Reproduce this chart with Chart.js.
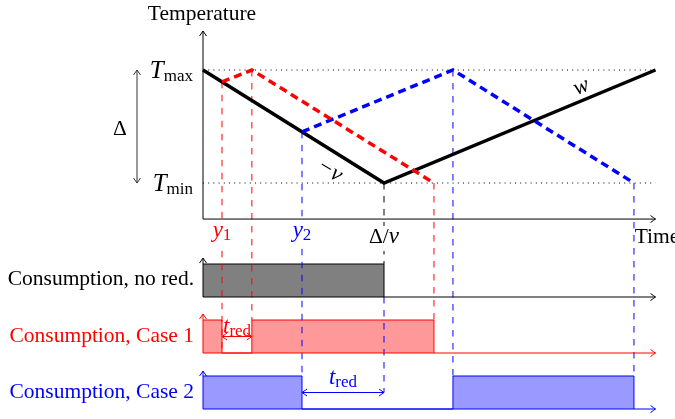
<!DOCTYPE html>
<html>
<head>
<meta charset="utf-8">
<script src="https://cdn.jsdelivr.net/npm/chart.js@4.4.1/dist/chart.umd.min.js"></script>
<style>
  html, body { margin: 0; padding: 0; background: #fff; overflow: hidden; }
</style>
</head>
<body>
<canvas id="chart" width="675" height="419"></canvas>
<script>
// time in units of Delta/v, temperature: 0 = Tmin, 1 = Tmax
const timeNoRed = [0, 1, 2.5];
const tempNoRed = [1, 0, 1];
const timeCase1 = [0.105, 0.27, 1.276];
const tempCase1 = [0.895, 1, 0];
const timeCase2 = [0.547, 1.381, 2.381];
const tempCase2 = [0.453, 1, 0];

// consumption on (1) / off (0), level holds from each time on
const consTimeNoRed = [0, 1];
const consNoRed = [1, 0];
const consTimeCase1 = [0, 0.105, 0.27, 1.276];
const consCase1 = [1, 0, 1, 0];
const consTimeCase2 = [0, 0.547, 1.381, 2.381];
const consCase2 = [1, 0, 1, 0];

const rowLabels = ['Consumption, no red.', 'Consumption, Case 1', 'Consumption, Case 2'];

const RED = '#ff0000';
const BLUE = '#0000ff';
const SERIF = '"Liberation Serif", "Times New Roman", serif';
const F_RM = '21.5px ' + SERIF;
const F_IT = 'italic 23px ' + SERIF;
const F_SUB = '17px ' + SERIF;

const pts = (xs, ys) => xs.map((x, i) => ({x: x, y: ys[i]}));

// scale bounds so that value 0 / 1 land on the wanted rows
const band = (base, top, h) => {
    const ppu = base - top;
    return {min: -(h - base) / ppu, max: base / ppu};
};

const seg = (ctx, x1, y1, x2, y2, color, width, dash) => {
    ctx.save();
    ctx.strokeStyle = color;
    ctx.lineWidth = width;
    ctx.setLineDash(dash || []);
    ctx.beginPath();
    ctx.moveTo(x1, y1);
    ctx.lineTo(x2, y2);
    ctx.stroke();
    ctx.restore();
};

const head = (ctx, x, y, angle, color) => {
    ctx.save();
    ctx.translate(x, y);
    ctx.rotate(angle);
    ctx.strokeStyle = color;
    ctx.lineWidth = 1;
    ctx.setLineDash([]);
    ctx.beginPath();
    ctx.moveTo(-5, -3.5);
    ctx.quadraticCurveTo(-1.5, -1, 0, 0);
    ctx.quadraticCurveTo(-1.5, 1, -5, 3.5);
    ctx.stroke();
    ctx.restore();
};

const arrow = (ctx, x1, y1, x2, y2, color, both) => {
    seg(ctx, x1, y1, x2, y2, color, 1);
    const a = Math.atan2(y2 - y1, x2 - x1);
    head(ctx, x2, y2, a, color);
    if (both) head(ctx, x1, y1, a + Math.PI, color);
};

// list of [text, font, dy]; bg paints a white box behind the text
const parts = (ctx, list, x, y, align, color, bg) => {
    ctx.save();
    ctx.textBaseline = 'alphabetic';
    ctx.textAlign = 'left';
    let w = 0;
    list.forEach(p => { ctx.font = p[1]; w += ctx.measureText(p[0]).width; });
    let cx = align === 'center' ? x - w / 2 : align === 'right' ? x - w : x;
    if (bg) {
        ctx.fillStyle = '#fff';
        ctx.fillRect(cx - 2, y - 17, w + 4, 25);
    }
    ctx.fillStyle = color;
    list.forEach(p => {
        ctx.font = p[1];
        ctx.fillText(p[0], cx, y + (p[2] || 0));
        cx += ctx.measureText(p[0]).width;
    });
    ctx.restore();
};

const rotated = (ctx, text, font, x, y, angle) => {
    ctx.save();
    ctx.translate(x, y);
    ctx.rotate(angle);
    ctx.font = font;
    ctx.fillStyle = '#000';
    ctx.textAlign = 'center';
    ctx.textBaseline = 'middle';
    ctx.fillText(text, 0, 0);
    ctx.restore();
};

const diagram = {
    id: 'diagram',
    beforeDatasetsDraw: chart => {
        const ctx = chart.ctx;
        const X = v => chart.scales.x.getPixelForValue(v);
        const T = v => chart.scales.y.getPixelForValue(v);
        chart.$verticalsDone = false;
        [1, 0].forEach(v => seg(ctx, X(0), T(v), X(2.5), T(v), '#000', 1, [1, 4.2]));
    },
    beforeDatasetDraw: (chart, args) => {
        const ds = chart.data.datasets[args.index];
        if (chart.$verticalsDone || ds.kind !== 'temp') return;
        chart.$verticalsDone = true;
        const ctx = chart.ctx;
        const X = v => chart.scales.x.getPixelForValue(v);
        const T = v => chart.scales.y.getPixelForValue(v);
        const C0 = v => chart.scales.c0.getPixelForValue(v);
        const C1 = v => chart.scales.c1.getPixelForValue(v);
        const C2 = v => chart.scales.c2.getPixelForValue(v);
        const d = [6.5, 6.5];

        seg(ctx, X(timeCase1[0]), T(tempCase1[0]), X(timeCase1[0]), C1(0), RED, 1, d);
        seg(ctx, X(timeCase1[1]), T(tempCase1[1]), X(timeCase1[1]), C1(1), RED, 1, d);
        seg(ctx, X(timeCase1[2]), T(tempCase1[2]), X(timeCase1[2]), C1(1), RED, 1, d);
        seg(ctx, X(timeCase2[0]), T(tempCase2[0]), X(timeCase2[0]), C2(1), BLUE, 1, d);
        seg(ctx, X(timeCase2[1]), T(tempCase2[1]), X(timeCase2[1]), C2(1), BLUE, 1, d);
        seg(ctx, X(timeCase2[2]), T(tempCase2[2]), X(timeCase2[2]), C2(1), BLUE, 1, d);
        seg(ctx, X(timeNoRed[1]), T(tempNoRed[1]), X(timeNoRed[1]), C0(1), '#000', 1, d);
        seg(ctx, X(timeNoRed[1]), C0(0), X(timeNoRed[1]), C2(0.5), BLUE, 1, d);
    },
    afterDatasetsDraw: chart => {
        const ctx = chart.ctx;
        const X = v => chart.scales.x.getPixelForValue(v);
        const T = v => chart.scales.y.getPixelForValue(v);
        const C0 = v => chart.scales.c0.getPixelForValue(v);
        const C1 = v => chart.scales.c1.getPixelForValue(v);
        const C2 = v => chart.scales.c2.getPixelForValue(v);

        // temperature axes
        arrow(ctx, X(0), T(-0.319), X(2.5), T(-0.319), '#000');
        arrow(ctx, X(0), T(-0.319), X(0), T(1.345), '#000');
        parts(ctx, [['Temperature', F_RM]], X(0) - 1, 20, 'center', '#000');
        parts(ctx, [['Time', F_RM]], X(2.385), 243, 'left', '#000');
        parts(ctx, [['T', 'italic 25px ' + SERIF], ['max', F_SUB, 3]], X(0) - 10, T(1) + 8, 'right', '#000');
        parts(ctx, [['T', 'italic 25px ' + SERIF], ['min', F_SUB, 3]], X(0) - 10, T(0) + 8, 'right', '#000');

        // Delta span
        arrow(ctx, 137, T(1), 137, T(0), '#333', true);
        parts(ctx, [['Δ', F_RM]], 120, T(0.5) + 8, 'center', '#000');

        // time tick labels
        parts(ctx, [['y', F_IT], ['1', F_SUB, 3]], X(timeCase1[0]), 237, 'center', RED, true);
        parts(ctx, [['y', F_IT], ['2', F_SUB, 3]], X(timeCase2[0]), 237, 'center', BLUE, true);
        parts(ctx, [['Δ', F_RM], ['/', F_RM], ['v', F_IT]], X(timeNoRed[1]), 243, 'center', '#000', true);

        // slope labels
        rotated(ctx, '−v', F_IT, X(0.7), T(0.11), Math.atan2(T(0) - T(1), X(1) - X(0)));
        rotated(ctx, 'w', F_IT, X(2.09), T(0.85), -Math.atan2(T(0) - T(1), X(2.5) - X(1)));

        // consumption rows
        arrow(ctx, X(0), C0(0), X(2.5), C0(0), '#000');
        arrow(ctx, X(0), C0(0), X(0), C0(1.18), '#000');
        arrow(ctx, X(0), C1(0), X(2.5), C1(0), RED);
        arrow(ctx, X(0), C1(0), X(0), C1(1.18), RED);
        arrow(ctx, X(0), C2(0), X(2.5), C2(0), BLUE);
        arrow(ctx, X(0), C2(0), X(0), C2(1.15), BLUE);

        parts(ctx, [[rowLabels[0], F_RM]], 194, 285, 'right', '#000');
        parts(ctx, [[rowLabels[1], F_RM]], 194, 342, 'right', RED);
        parts(ctx, [[rowLabels[2], F_RM]], 194, 398, 'right', BLUE);

        // reduction time
        arrow(ctx, X(timeCase1[0]), C1(0.5), X(timeCase1[1]), C1(0.5), RED, true);
        parts(ctx, [['t', F_IT], ['red', F_SUB, 3]], X(timeCase1[0]) + 1, C1(0.5) - 4, 'left', RED);
        arrow(ctx, X(timeCase2[0]), C2(0.5), X(timeNoRed[1]), C2(0.5), BLUE, true);
        parts(ctx, [['t', F_IT], ['red', F_SUB, 3]], (X(timeCase2[0]) + X(timeNoRed[1])) / 2, C2(0.5) - 9, 'center', BLUE);
    },
};

const W = 675, H = 419;
const yTemp = band(183, 70, H);
const yC0 = band(297, 264, H);
const yC1 = band(353, 320, H);
const yC2 = band(409, 376, H);

new Chart(document.getElementById('chart'), {
    type: 'line',
    data: {
        datasets: [
            {kind: 'temp', data: pts(timeCase1, tempCase1), yAxisID: 'y', borderColor: RED, borderWidth: 3.5, borderDash: [8, 5], fill: false, order: 1},
            {kind: 'temp', data: pts(timeCase2, tempCase2), yAxisID: 'y', borderColor: BLUE, borderWidth: 3.5, borderDash: [8, 5], fill: false, order: 1},
            {kind: 'temp', data: pts(timeNoRed, tempNoRed), yAxisID: 'y', borderColor: '#000', borderWidth: 3.5, fill: false, order: 2},
            {kind: 'cons', data: pts(consTimeNoRed, consNoRed), yAxisID: 'c0', stepped: 'before', borderColor: '#000', borderWidth: 1, backgroundColor: '#808080', fill: 'origin', order: 3},
            {kind: 'cons', data: pts(consTimeCase1, consCase1), yAxisID: 'c1', stepped: 'before', borderColor: RED, borderWidth: 1, backgroundColor: 'rgba(255, 0, 0, 0.4)', fill: 'origin', order: 3},
            {kind: 'cons', data: pts(consTimeCase2, consCase2), yAxisID: 'c2', stepped: 'before', borderColor: BLUE, borderWidth: 1, backgroundColor: 'rgba(0, 0, 255, 0.4)', fill: 'origin', order: 3},
        ],
    },
    options: {
        responsive: false,
        animation: false,
        layout: {padding: 0},
        elements: {point: {radius: 0, hoverRadius: 0}, line: {tension: 0, borderCapStyle: 'butt'}},
        plugins: {legend: {display: false}, tooltip: {enabled: false}},
        events: [],
        scales: {
            x: {type: 'linear', display: false, min: -203 / 181, max: (W - 203) / 181},
            y: {type: 'linear', display: false, min: yTemp.min, max: yTemp.max},
            c0: {type: 'linear', display: false, min: yC0.min, max: yC0.max},
            c1: {type: 'linear', display: false, min: yC1.min, max: yC1.max},
            c2: {type: 'linear', display: false, min: yC2.min, max: yC2.max},
        },
    },
    plugins: [diagram],
});
</script>
</body>
</html>
